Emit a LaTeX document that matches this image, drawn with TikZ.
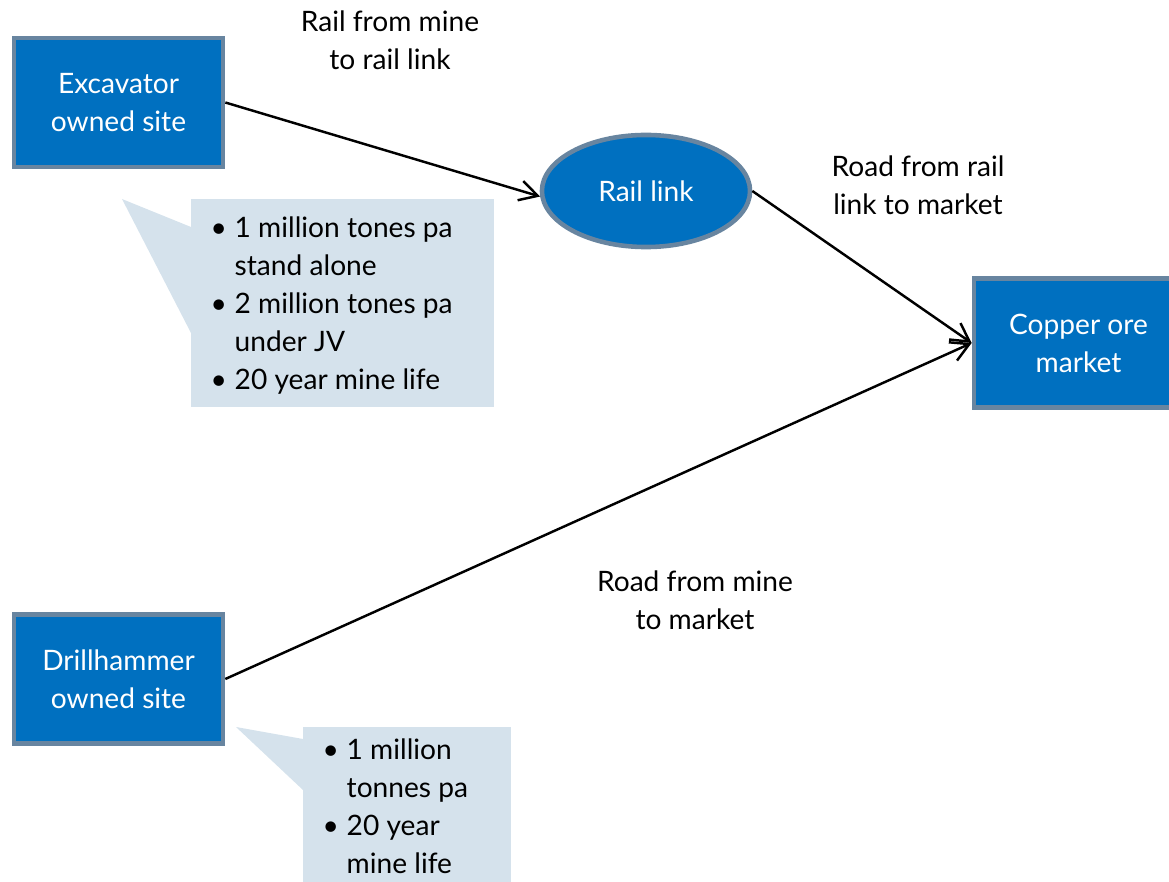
\documentclass[tikz,border=0pt]{standalone}
\usepackage{fontspec}
\setmainfont{Lato}
\usetikzlibrary{shapes.geometric,arrows.meta}
\definecolor{siteblue}{RGB}{0,112,192}
\definecolor{siteedge}{RGB}{104,133,160}
\definecolor{notefill}{RGB}{213,226,236}
\newcommand{\bul}{\makebox[2.4mm][l]{\textbullet}}
\newcommand{\gap}{\hspace*{2.4mm}}

\begin{document}
\begin{tikzpicture}[x=0.01cm,y=-0.01cm]
        \tikzstyle{site}=[rectangle,draw=siteedge,line width=1.3pt,fill=siteblue,text=white,minimum width=2.09cm,minimum height=1.29cm,align=center,font=\fontsize{8}{10.8}\selectfont]
        \tikzstyle{hub}=[ellipse,draw=siteedge,line width=1.3pt,fill=siteblue,text=white,minimum width=2.08cm,minimum height=1.12cm,inner sep=0pt,font=\fontsize{8}{10.8}\selectfont]
        \tikzstyle{route}=[align=center,font=\fontsize{8}{10.8}\selectfont]
        \tikzstyle{note}=[anchor=north west,inner sep=0pt,align=left,font=\fontsize{8}{10.8}\selectfont]
        \tikzstyle{edge}=[draw, line width=0.7pt, -{Straight Barb[length=1.8mm,width=2mm]}]
        \useasboundingbox (0,0) rectangle (1169,882);
        % callouts
        \fill[notefill] (191,199) rectangle (494,407);
        \fill[notefill] (122,199) -- (191,227) -- (191,333) -- cycle;
        \fill[notefill] (303,727) rectangle (511,882);
        \fill[notefill] (236,727) -- (303,739) -- (303,790) -- cycle;
        \begin{scope}
                \node [site] (exc) at (118.5,102.5) {Excavator\\owned site};
                \node [site] (drill) at (118.5,679) {Drillhammer\\owned site};
                \node [site] (market) at (1078.5,343) {Copper ore\\market};
                \node [hub] (rail) at (646,191) {Rail link};
                \node [route] (lab1) at (390,40) {Rail from mine\\to rail link};
                \node [route] (lab2) at (918,185) {Road from rail\\link to market};
                \node [route] (lab3) at (695,600) {Road from mine\\to market};
                \node [note] (note1) at (210,216) {\bul 1 million tones pa\\\gap stand alone\\\bul 2 million tones pa\\\gap under JV\\\bul 20 year mine life};
                \node [note] (note2) at (322,738) {\bul 1 million\\\gap tonnes pa\\\bul 20 year\\\gap mine life};
                \path (exc.east) edge[edge] (rail.183);
                \path (rail.east) edge[edge] (market.west);
                \path (drill.east) edge[edge] (market.west);
        \end{scope}
\end{tikzpicture}
\end{document}
